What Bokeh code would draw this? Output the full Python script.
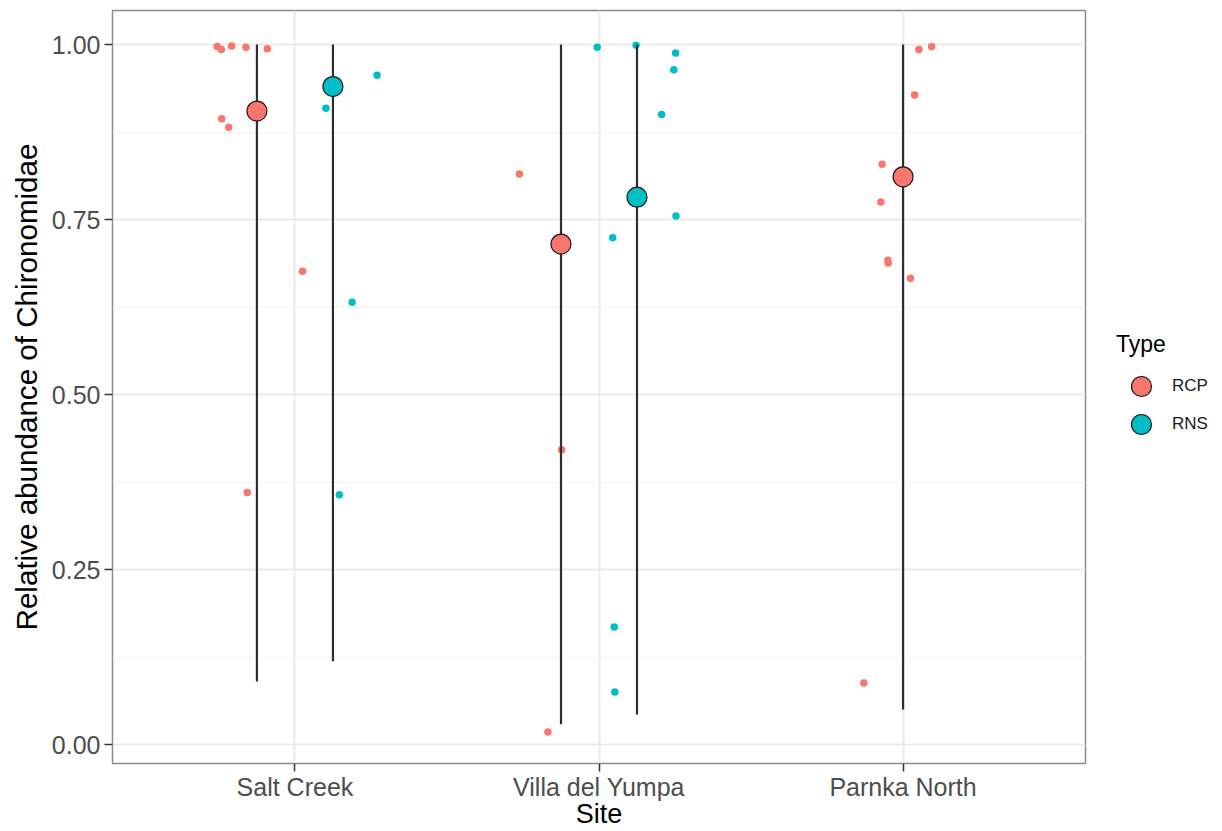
from bokeh.plotting import figure
from bokeh.layouts import row
from bokeh.models import (ColumnDataSource, FixedTicker, Legend, LegendItem,
                          Range1d, PrintfTickFormatter)
from bokeh.embed import file_html
from bokeh.resources import INLINE

# ---- data -------------------------------------------------------------
sites = ["Salt Creek", "Villa del Yumpa", "Parnka North"]
types = ["RCP", "RNS"]
type_colors = ["#F8766D", "#00BFC4"]

# individual samples (jitter = horizontal spread within a group, in site units)
obs_site = (["Salt Creek"] * 13 + ["Villa del Yumpa"] * 12 + ["Parnka North"] * 9)
obs_type = (["RCP"] * 9 + ["RNS"] * 4 + ["RCP"] * 3 + ["RNS"] * 9 + ["RCP"] * 9)
obs_value = [0.997, 0.993, 0.998, 0.996, 0.994, 0.894, 0.882, 0.676, 0.360,
             0.956, 0.909, 0.632, 0.357,
             0.815, 0.421, 0.018,
             0.996, 0.999, 0.988, 0.964, 0.900, 0.755, 0.724, 0.168, 0.075,
             0.993, 0.997, 0.928, 0.829, 0.775, 0.692, 0.688, 0.666, 0.088]
obs_jitter = [-0.131, -0.117, -0.083, -0.036, 0.034, -0.116, -0.093, 0.150, -0.032,
              0.145, -0.023, 0.063, 0.021,
              -0.137, 0.002, -0.043,
              -0.131, -0.003, 0.127, 0.121, 0.081, 0.128, -0.080, -0.075, -0.073,
              0.052, 0.094, 0.038, -0.069, -0.073, -0.050, -0.049, 0.024, -0.129]

# group summaries: centre point and interval
sum_site = ["Salt Creek", "Salt Creek", "Villa del Yumpa", "Villa del Yumpa", "Parnka North"]
sum_type = ["RCP", "RNS", "RCP", "RNS", "RCP"]
sum_mean = [0.905, 0.940, 0.715, 0.782, 0.811]
sum_lower = [0.090, 0.119, 0.029, 0.043, 0.050]
sum_upper = [1.000, 1.000, 1.000, 1.000, 1.000]

# ---- dodge positions --------------------------------------------------
DODGE = 0.125
groups_at = {s: [t for t in types if any(ss == s and tt == t for ss, tt in zip(sum_site, sum_type))]
             for s in sites}


def group_x(site, typ):
    base = sites.index(site) + 1
    present = groups_at[site]
    if len(present) < 2:
        return base
    return base + (-DODGE if typ == present[0] else DODGE)


color_of = dict(zip(types, type_colors))

obs = ColumnDataSource(dict(
    x=[group_x(s, t) + j for s, t, j in zip(obs_site, obs_type, obs_jitter)],
    y=obs_value,
    color=[color_of[t] for t in obs_type],
))

summary_sources = {}
for t in types:
    idx = [i for i, tt in enumerate(sum_type) if tt == t]
    summary_sources[t] = dict(
        x=[group_x(sum_site[i], t) for i in idx],
        m=[sum_mean[i] for i in idx],
        lo=[sum_lower[i] for i in idx],
        hi=[sum_upper[i] for i in idx],
    )

FONT = "Liberation Sans"

p = figure(width=1095, height=831, output_backend="svg", toolbar_location=None,
           x_range=Range1d(0.4, 3.6), y_range=Range1d(-0.027, 1.0486),
           min_border_left=112, min_border_top=10, min_border_right=10,
           min_border_bottom=68)

p.background_fill_color = "white"
p.border_fill_color = "white"
p.outline_line_color = "#8c8c8c"
p.outline_line_width = 1.5

# grid
p.xgrid.grid_line_color = "#EBEBEB"
p.xgrid.grid_line_width = 2
p.ygrid.grid_line_color = "#EBEBEB"
p.ygrid.grid_line_width = 2
p.ygrid.minor_grid_line_color = "#F3F3F3"
p.ygrid.minor_grid_line_width = 1

# raw samples
p.scatter("x", "y", source=obs, size=7.5, fill_color="color", line_color=None)

# intervals and centre points
for t, c in zip(types, type_colors):
    src = ColumnDataSource(summary_sources[t])
    p.segment(x0="x", x1="x", y0="lo", y1="hi", source=src,
              line_color="#2e2e2e", line_width=2.2)
    p.scatter("x", "m", source=src, size=20, fill_color=c,
              line_color="#1a1a1a", line_width=1.2)

# axes
p.xaxis.ticker = FixedTicker(ticks=[1, 2, 3])
p.xaxis.major_label_overrides = {i + 1: s for i, s in enumerate(sites)}
p.yaxis.ticker = FixedTicker(ticks=[0, 0.25, 0.5, 0.75, 1.0],
                             minor_ticks=[0.125, 0.375, 0.625, 0.875])
p.yaxis.formatter = PrintfTickFormatter(format="%.2f")

for ax in (p.xaxis, p.yaxis):
    ax.axis_line_color = None
    ax.major_tick_line_color = "#333333"
    ax.major_tick_line_width = 1.5
    ax.major_tick_out = 8
    ax.major_tick_in = 0
    ax.minor_tick_line_color = None
    ax.major_label_text_font = FONT
    ax.major_label_text_font_size = "25px"
    ax.major_label_text_color = "#4D4D4D"
    ax.axis_label_text_font = FONT
    ax.axis_label_text_font_style = "normal"
    ax.axis_label_text_color = "black"

p.xaxis.axis_label = "Site"
p.yaxis.axis_label = "Relative abundance of Chironomidae"
p.xaxis.axis_label_text_font_size = "27px"
p.yaxis.axis_label_text_font_size = "29.6px"
p.xaxis.major_label_standoff = 1
p.xaxis.axis_label_standoff = -5
p.yaxis.major_label_standoff = 4
p.yaxis.axis_label_standoff = 6

# ---- legend panel -----------------------------------------------------
# The key glyphs reuse the group summaries; the panel's x range sits left of
# every site, so only the legend itself shows here.
lg = figure(width=127, height=831, output_backend="svg", toolbar_location=None,
            x_axis_type=None, y_axis_type=None, min_border=0,
            x_range=Range1d(-1, 0), y_range=Range1d(0, 1))
lg.outline_line_color = None
lg.grid.visible = False

legend_common = dict(orientation="vertical", glyph_width=50, glyph_height=50,
                     label_standoff=6, padding=0, margin=0,
                     border_line_color=None, background_fill_alpha=0,
                     label_text_font=FONT, label_text_font_size="17px",
                     label_text_color="#1a1a1a",
                     title_text_font=FONT, title_text_font_size="23px",
                     title_text_font_style="normal", title_text_color="black",
                     title_standoff=3)

# one legend block per key so the keys can sit closer than their glyph boxes
key_offsets = [352, 314]
for k, (t, c) in enumerate(zip(types, type_colors)):
    key = lg.scatter("x", "m", source=ColumnDataSource(summary_sources[t]),
                     size=20, fill_color=c, line_color="#1a1a1a", line_width=1.2)
    leg = Legend(items=[LegendItem(label=t, renderers=[key])],
                 location=(21, key_offsets[k]), **legend_common)
    if k == 0:
        leg.title = "Type"
    lg.add_layout(leg, "center")

open("out.html", "w").write(file_html(row(p, lg), INLINE))
